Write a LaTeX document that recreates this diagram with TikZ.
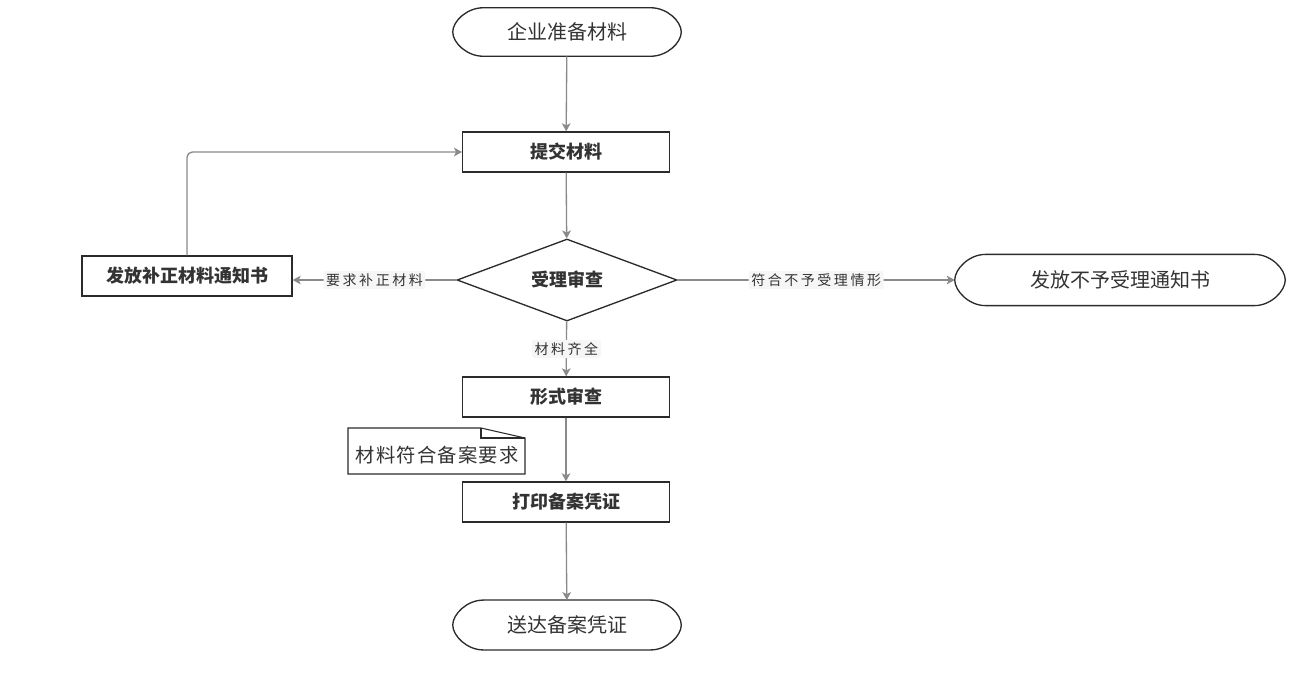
\documentclass[tikz,border=0pt]{standalone}
\usepackage{fontspec}
\setmainfont{Noto Sans CJK SC}
\usetikzlibrary{shapes.geometric,arrows.meta}
\definecolor{inkgray}{HTML}{333333}
\definecolor{wiregray}{HTML}{8A8A8A}
\definecolor{framegray}{HTML}{2B2B2B}
\definecolor{taggray}{HTML}{F6F6F6}
\newcommand{\inkcolor}{inkgray}
\newcommand{\wirecolor}{wiregray}
\newcommand{\framecolor}{framegray}

\begin{document}
\begin{tikzpicture}[x=0.75pt, y=-0.75pt, >={Stealth[length=6pt, width=6.5pt, inset=1.5pt]},
    terminal/.style={rectangle, minimum width=171pt, minimum height=36pt, inner sep=0pt,
        text=\inkcolor, font=\fontsize{15}{17}\selectfont},
    outline/.style={draw=\framecolor, line width=1pt},
    process/.style={rectangle, draw=\framecolor, line width=1pt, minimum width=155pt, minimum height=30pt,
        inner sep=0pt, text=\inkcolor, font=\bfseries\fontsize{13.5}{15}\selectfont},
    decision/.style={diamond, draw=\framecolor, line width=1pt, minimum width=165pt, minimum height=61.5pt,
        inner sep=0pt, aspect=2.7, text=\inkcolor, font=\bfseries\fontsize{13.5}{15}\selectfont},
    flow/.style={->, draw=\wirecolor, line width=1pt},
    tag/.style={fill=taggray, rounded corners=2pt, inner sep=2pt, text=\inkcolor,
        font=\fontsize{10.5}{12}\selectfont\addfontfeatures{LetterSpace=18}}]
        \useasboundingbox (0,0) rectangle (1315,683);

        \node[terminal] (prepare) at (567,32) {企业准备材料};
        \node[process] (submit) at (566,152) {提交材料};
        \node[decision] (accept) at (567,280) {受理审查};
        \node[process, minimum width=157.5pt] (correct) at (187,276) {发放补正材料通知书};
        \node[terminal, minimum width=247.5pt, minimum height=38pt] (reject) at (1120,280) {发放不予受理通知书};
        \node[process] (formal) at (566,397) {形式审查};
        \node[process] (print) at (566,502) {打印备案凭证};
        \node[terminal, minimum height=37pt] (deliver) at (567,625) {送达备案凭证};

        % pointed oval outline of the terminals
        \foreach \t in {prepare, reject, deliver}
            \draw[outline] ([xshift=23pt]\t.north west) -- ([xshift=-23pt]\t.north east)
                .. controls ([xshift=-10.5pt]\t.north east) and ([yshift=8pt]\t.east) .. (\t.east)
                .. controls ([yshift=-8pt]\t.east) and ([xshift=-10.5pt]\t.south east) .. ([xshift=-23pt]\t.south east)
                -- ([xshift=23pt]\t.south west)
                .. controls ([xshift=10.5pt]\t.south west) and ([yshift=-8pt]\t.west) .. (\t.west)
                .. controls ([yshift=8pt]\t.west) and ([xshift=10.5pt]\t.north west) .. cycle;

        % main line
        \draw[flow] (prepare) -- (submit);
        \draw[flow] (submit) -- (accept);
        \draw[flow] (accept) -- node[tag] {材料齐全} (formal);
        \draw[flow] (formal) -- (print);
        \draw[flow] (print) -- (deliver);
        % side branches
        \draw[flow] (accept.west) -- node[tag] {要求补正材料} (accept.west -| correct.east);
        \draw[flow] (accept) -- node[tag] {符合不予受理情形} (reject);
        \draw[flow, rounded corners=4pt] (correct.north) |- (submit.west);

        % note with folded corner
        \draw[draw=\framecolor, line width=0.8pt, fill=white] (348,428) -- (481,428) -- (525,438) -- (525,474) -- (348,474) -- cycle;
        \draw[draw=\framecolor, line width=0.8pt] (481,428) -- (481,438) -- (525,438);
        \node[text=\inkcolor, font=\fontsize{14.5}{16}\selectfont\addfontfeatures{LetterSpace=6}] (note) at (437,455) {材料符合备案要求};
    \end{tikzpicture}
\end{document}
